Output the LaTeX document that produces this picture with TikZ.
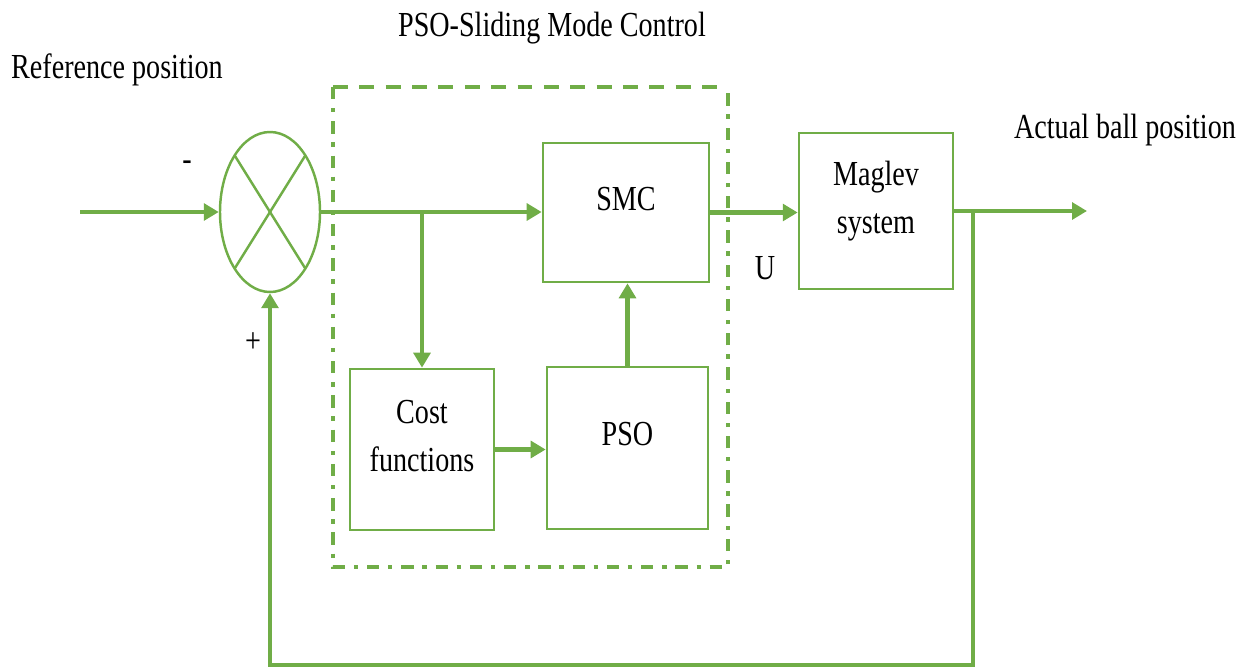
\documentclass[tikz,border=0pt]{standalone}
\usepackage{fontspec}
\setmainfont{Liberation Serif}[FakeStretch=0.8]
\usepackage{tikz}
\usetikzlibrary{shapes.geometric,arrows.meta,positioning,calc}
\definecolor{PSOgreen}{HTML}{70AD47}

\tikzset{
  blk/.style={rectangle, draw=PSOgreen, line width=1.5pt, align=center,
              font=\fontsize{20}{27}\selectfont, inner sep=0pt, text depth=0.55cm},
  lbl/.style={font=\fontsize{20}{24}\selectfont, inner sep=0pt},
  conn/.style={draw=PSOgreen, line width=2.4pt, -{Triangle[length=8.5pt,width=9.5pt]}},
  dashbox/.style={draw=PSOgreen, line width=2.4pt, dash pattern=on 8.5pt off 6.5pt},
  dashdotbox/.style={draw=PSOgreen, line width=2.4pt, dash pattern=on 7pt off 5pt on 2.5pt off 5pt},
}

\begin{document}
\begin{tikzpicture}
  \useasboundingbox (0,0) rectangle (24.96,13.38);

  % frame round the controller
  \coordinate (fsw) at (6.66,2.04);
  \coordinate (fne) at (14.56,11.64);
  \draw[dashbox] (fsw |- fne) -- (fne);
  \draw[dashdotbox] (fsw |- fne) -- (fsw) -- (fsw -| fne) -- (fne);

  % summing junction
  \node[ellipse, draw=PSOgreen, line width=1.4pt, minimum width=2cm,
        minimum height=3.2cm, inner sep=0pt] (sum) at (5.4,9.14) {};
  \draw[PSOgreen, line width=1.4pt] ($(sum.center)+(135:1cm and 1.6cm)$) -- ($(sum.center)+(-45:1cm and 1.6cm)$);
  \draw[PSOgreen, line width=1.4pt] ($(sum.center)+(45:1cm and 1.6cm)$) -- ($(sum.center)+(-135:1cm and 1.6cm)$);

  % blocks
  \node[blk, minimum width=3.32cm, minimum height=2.78cm] (smc) at (12.52,9.13) {SMC};
  \node[blk, minimum width=3.08cm, minimum height=3.12cm] (maglev) at (17.52,9.16) {Maglev\\system};
  \node[blk, minimum width=2.88cm, minimum height=3.22cm] (cost) at (8.44,4.39) {Cost\\functions};
  \node[blk, minimum width=3.22cm, minimum height=3.24cm] (pso) at (12.55,4.42) {PSO};

  % labels
  \node[lbl] (refpos) at (2.34,11.98) {Reference position};
  \node[lbl] (title) at (11.04,12.82) {PSO-Sliding Mode Control};
  \node[lbl] (actpos) at (22.5,10.78) {Actual ball position};
  \node[lbl] (minus) at (3.74,10.06) {-};
  \node[lbl] (plus) at (5.06,6.52) {+};
  \node[lbl] (ulbl) at (15.3,8.02) {U};

  % connectors
  \coordinate (in) at (1.6,9.14);
  \coordinate (out) at (21.74,9.16);
  \coordinate (fb) at (19.46,0.08);
  \draw[conn] (in) -- (sum.west);
  \draw[conn] (sum.east) -- (sum.east -| smc.west);
  \draw[conn] (sum.east -| cost.north) -- (cost.north);
  \draw[conn] (cost.east) -- (cost.east -| pso.west);
  \draw[conn] (pso.north) -- (pso.north |- smc.south);
  \draw[conn] (smc.east) -- (smc.east -| maglev.west);
  \draw[conn] (maglev.east) -- (out);
  \draw[conn] (maglev.east -| fb) -- (fb) -| (sum.south);
\end{tikzpicture}
\end{document}
